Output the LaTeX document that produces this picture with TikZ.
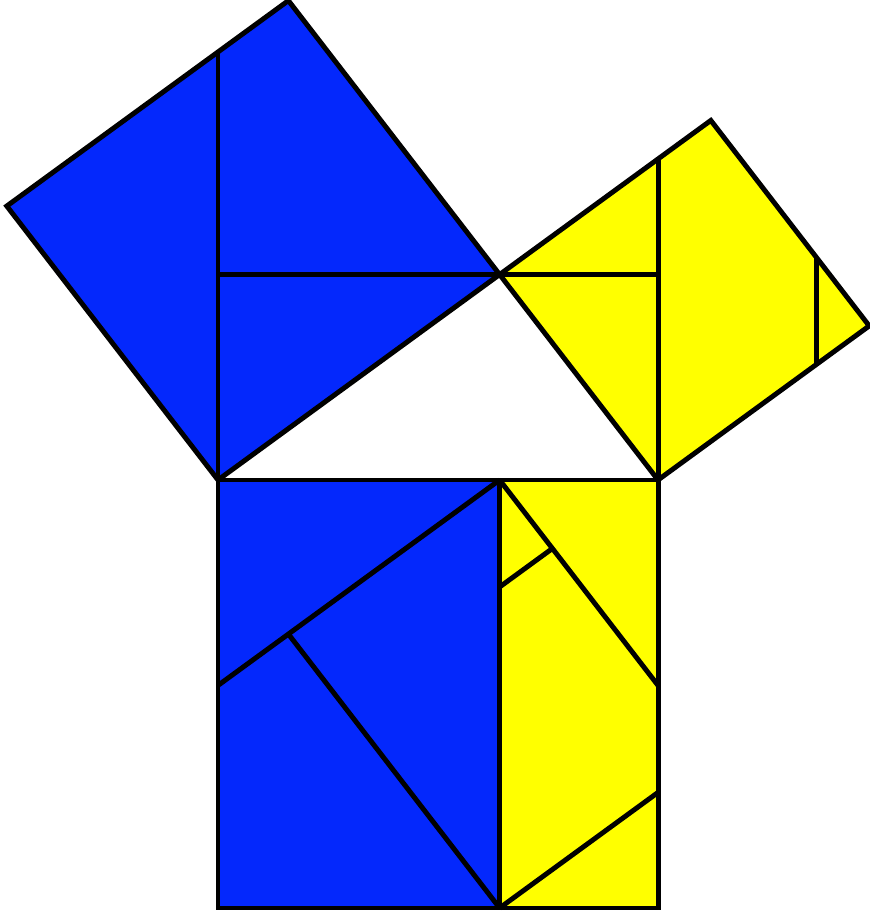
\documentclass[tikz,border=0pt]{standalone}
\usepackage{tikz}
\usetikzlibrary{calc}
\usepackage{xcolor}
\definecolor{pieceblue}{RGB}{4,40,252}
\definecolor{pieceyellow}{RGB}{255,255,0}

\begin{document}
\begin{tikzpicture}[
    x=1cm, y=0.9727cm,
    bluepiece/.style={fill=pieceblue},
    yellowpiece/.style={fill=pieceyellow},
    edge/.style={draw=black, line width=1.6pt},
    cut/.style={draw=black, line width=1.6pt},
]
    \useasboundingbox (-2.477,-5.035) rectangle (7.398,5.607);

    % Right triangle
    \coordinate (A) at (0,0);
    \coordinate (B) at (5,0);
    \coordinate (C) at (3.2,2.4);

    % Square on the long leg
    \coordinate (D) at (0.8,5.6);
    \coordinate (E) at (-2.4,3.2);

    % Square on the short leg
    \coordinate (F) at (5.6,4.2);
    \coordinate (G) at (7.4,1.8);

    % Square on the hypotenuse
    \coordinate (H) at (5,-5);
    \coordinate (K) at (0,-5);
    \coordinate (M) at (3.2,0);
    \coordinate (N) at (3.2,-5);

    % Cut points
    \coordinate (p1) at (0,5);
    \coordinate (p2) at (0,2.4);
    \coordinate (q1) at (5,3.75);
    \coordinate (q2) at (5,2.4);
    \coordinate (q3) at (6.8,2.6);
    \coordinate (q4) at (6.8,1.35);
    \coordinate (r1) at (0,-2.4);
    \coordinate (r2) at (0.8,-1.8);
    \coordinate (s1) at (5,-2.4);
    \coordinate (s2) at (3.8,-0.8);
    \coordinate (s3) at (3.2,-1.25);
    \coordinate (s4) at (5,-3.65);

    % Fills
    \fill[bluepiece] (A) -- (E) -- (D) -- (C) -- cycle;
    \fill[yellowpiece] (C) -- (F) -- (G) -- (B) -- cycle;
    \fill[bluepiece] (A) -- (M) -- (N) -- (K) -- cycle;
    \fill[yellowpiece] (M) -- (B) -- (H) -- (N) -- cycle;

    % Outlines
    \draw[edge] (A) -- (E) -- (D) -- (C) -- cycle;
    \draw[edge] (C) -- (F) -- (G) -- (B) -- cycle;
    \draw[edge] (A) -- (B) -- (H) -- (K) -- cycle;

    % Cuts in the blue square
    \draw[cut] (A) -- (p1);
    \draw[cut] (p2) -- (C);

    % Cuts in the yellow square
    \draw[cut] (B) -- (q1);
    \draw[cut] (C) -- (q2);
    \draw[cut] (q3) -- (q4);

    % Cuts in the bottom square
    \draw[cut] (M) -- (N);
    \draw[cut] (M) -- (r1);
    \draw[cut] (r2) -- (N);
    \draw[cut] (M) -- (s1);
    \draw[cut] (s2) -- (s3);
    \draw[cut] (N) -- (s4);
\end{tikzpicture}
\end{document}
